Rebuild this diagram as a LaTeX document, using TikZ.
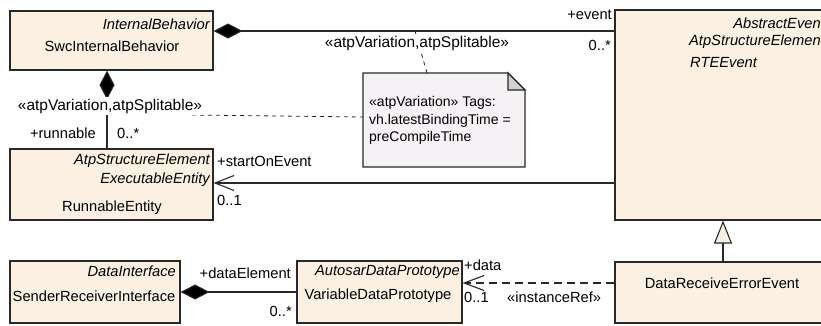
\documentclass[tikz,border=0pt]{standalone}
\usepackage{fontspec}
\setmainfont{Liberation Sans}
\usetikzlibrary{arrows.meta,calc}
\definecolor{boxfill}{RGB}{251,240,226}
\definecolor{notefill}{RGB}{245,241,245}
\definecolor{foldfill}{RGB}{208,208,208}
\definecolor{linecol}{RGB}{40,40,40}
\tikzset{
  umlbox/.style={draw=linecol, line width=1.1pt, fill=boxfill, inner sep=0pt},
  lbl/.style={inner sep=0pt, font=\fontsize{14.7}{16}\selectfont},
  stereo/.style={inner sep=1.5pt, fill=white, font=\fontsize{15.5}{17}\selectfont},
  ital/.style={lbl, font=\fontsize{14.7}{16}\selectfont\itshape},
  notetxt/.style={inner sep=0pt, font=\fontsize{14}{16}\selectfont},
  conn/.style={draw=linecol, line width=1.1pt},
  comp/.style={conn, {Diamond[length=29pt,width=15pt,fill=black]}-},
  assoc/.style={conn, -{Straight Barb[length=19pt,width=15pt]}},
  dep/.style={conn, dash pattern=on 8pt off 5pt, -{Straight Barb[length=20pt,width=15pt]}},
  gen/.style={conn, -{Triangle[open,length=23pt,width=18pt,fill=boxfill]}},
  notelink/.style={draw=linecol, line width=0.8pt, dash pattern=on 4pt off 4pt},
}
\begin{document}
\begin{tikzpicture}[x=1pt,y=-1pt]
\useasboundingbox (0,0) rectangle (821,325);
\fill[white] (0,0) rectangle (821,325);
\clip (0,0) rectangle (821,325);

% class boxes
\node[umlbox, minimum width=203pt, minimum height=59pt] (swc) at (111.5,40.5) {};
\node[umlbox, minimum width=215pt, minimum height=210pt] (rte) at (722.5,115) {};
\node[umlbox, minimum width=203pt, minimum height=71pt] (run) at (111.5,184.5) {};
\node[umlbox, minimum width=170pt, minimum height=62pt] (sri) at (95,292) {};
\node[umlbox, minimum width=165pt, minimum height=62pt] (vdp) at (379.5,292) {};
\node[umlbox, minimum width=215pt, minimum height=61pt] (dre) at (722.5,292.5) {};

% note
\coordinate (n1) at (363,73);
\coordinate (n2) at (508,73);
\coordinate (n3) at (525,90);
\coordinate (n4) at (525,167);
\coordinate (n5) at (363,167);
\draw[fill=notefill, draw=linecol, line width=1.1pt] (n1) -- (n2) -- (n3) -- (n4) -- (n5) -- cycle;
\draw[fill=foldfill, draw=linecol, line width=1.1pt] (n2) -- (n3) -- (508,90) -- cycle;
\node[notetxt, anchor=west] (nt1) at (369,103) {«atpVariation» Tags:};
\node[notetxt, anchor=west] (nt2) at (369,121) {vh.latestBindingTime =};
\node[notetxt, anchor=west] (nt3) at (369,138) {preCompileTime};

% box texts
\node[ital, anchor=east] (swcA) at (210,24) {InternalBehavior};
\node[lbl] (swcN) at (112,46) {SwcInternalBehavior};

\node[ital, anchor=east] (rteA) at (825,23) {AbstractEvent};
\node[ital, anchor=east] (rteB) at (825,42) {AtpStructureElement};
\node[ital, anchor=west] (rteN) at (690,63) {RTEEvent};

\node[ital, anchor=east] (runA) at (210,161) {AtpStructureElement};
\node[ital, anchor=east] (runB) at (210,180) {ExecutableEntity};
\node[lbl] (runN) at (112,208) {RunnableEntity};

\node[ital, anchor=east] (sriA) at (176,271) {DataInterface};
\node[lbl] (sriN) at (94,296) {SenderReceiverInterface};

\node[ital, anchor=east] (vdpA) at (460,272) {AutosarDataPrototype};
\node[lbl] (vdpN) at (378,296) {VariableDataPrototype};

\node[lbl] (dreN) at (722,283) {DataReceiveErrorEvent};

% connectors
\coordinate (y31) at (0,31);
\coordinate (y183) at (0,183);
\coordinate (y283) at (0,283);
\coordinate (x107) at (107,0);
\coordinate (x723) at (723,0);
\coordinate (x427) at (427,0);
\coordinate (y117) at (0,117);

\draw[comp] (swc.east |- y31) -- (rte.west |- y31);
\draw[comp] (swc.south -| x107) -- (run.north -| x107);
\draw[assoc] (rte.west |- y183) -- (run.east |- y183);
\draw[comp] (sri.east) -- (vdp.west);
\draw[dep] (dre.west |- y283) -- (vdp.east |- y283);
\draw[gen] (dre.north -| x723) -- (rte.south -| x723);

% note links
\coordinate (c1) at (415,31);
\coordinate (c2) at (192,115);
\draw[notelink] (n1 -| x427) -- (c1);
\draw[notelink] (c2) -- (n1 |- y117);

% connector labels
\node[lbl, anchor=east] (l1) at (612,15) {+event};
\node[lbl, anchor=east] (l2) at (611,45) {0..*};
\node[stereo] (l3) at (417,43) {«atpVariation,atpSplitable»};
\node[stereo] (l4) at (110,106) {«atpVariation,atpSplitable»};
\node[lbl, anchor=east] (l5) at (96,133) {+runnable};
\node[lbl, anchor=west] (l6) at (117,133) {0..*};
\node[lbl, anchor=west] (l7) at (217,161) {+startOnEvent};
\node[lbl, anchor=west] (l8) at (217,200) {0..1};
\node[lbl, anchor=east] (l9) at (291,273) {+dataElement};
\node[lbl, anchor=east] (l10) at (292,311) {0..*};
\node[lbl, anchor=west] (l11) at (464,265) {+data};
\node[lbl, anchor=west] (l12) at (464,297) {0..1};
\node[lbl, anchor=west] (l13) at (507,297) {«instanceRef»};
\end{tikzpicture}
\end{document}
